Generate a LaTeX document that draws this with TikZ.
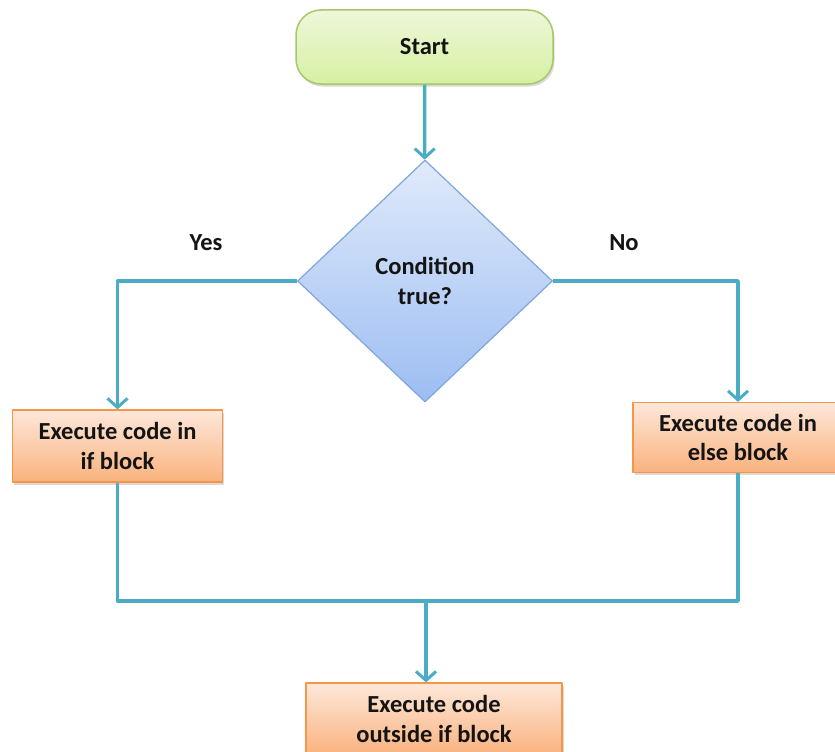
\documentclass[tikz,border=0pt]{standalone}
\usepackage{fontspec}
\setmainfont{Carlito}
\usetikzlibrary{shapes.geometric,arrows.meta,shadows,calc}
\definecolor{flowline}{HTML}{4BACC6}
\definecolor{termtop}{HTML}{EEF7DA}
\definecolor{termbot}{HTML}{D6F0A2}
\definecolor{termedge}{HTML}{A8C76A}
\definecolor{condtop}{HTML}{E0EAFB}
\definecolor{condbot}{HTML}{9CBDF2}
\definecolor{condedge}{HTML}{7FA6DA}
\definecolor{proctop}{HTML}{FDE8DA}
\definecolor{procbot}{HTML}{FAB27E}
\definecolor{procedge}{HTML}{F79646}

\begin{document}
\begin{tikzpicture}[x=1pt,y=-1pt, line join=round,
  every node/.style={font=\fontsize{24.5}{29.5}\selectfont\bfseries, text=black!92, align=center, inner sep=0pt},
  shade/.style={drop shadow={shadow xshift=1.5pt, shadow yshift=-2.5pt, opacity=0.3}},
  terminal/.style={shade, draw=termedge, line width=1.5pt, rounded corners=25pt, top color=termtop, bottom color=termbot, minimum width=257pt, minimum height=74pt},
  decision/.style={diamond, draw=condedge, line width=1.2pt, top color=condtop, bottom color=condbot, minimum width=255pt, minimum height=242pt},
  process/.style={shade, draw=procedge, line width=1.2pt, top color=proctop, bottom color=procbot, minimum width=210pt, minimum height=72pt},
  flow/.style={draw=flowline, line width=3.5pt},
  arrow/.style={flow, -{Straight Barb[length=9pt,width=20pt,line width=3pt]}}]
\useasboundingbox (0,0) rectangle (835,752);
\clip (0,0) rectangle (835,752);
\node[terminal] (start) at (424.5,47) {Start};
\node[decision] (cond) at (425,281) {Condition\\true?};
\node[process] (ifblk) at (117.5,446) {Execute code in\\if block};
\node[process, minimum height=70pt] (elseblk) at (738,437.5) {Execute code in\\else block};
\node[process, minimum width=256pt] (outblk) at (434,719) {Execute code\\outside if block};
\node (yes) at (206,243) {Yes};
\node (no) at (624,243) {No};
\coordinate (join) at (426,601);
\draw[arrow] (start) -- (cond);
\draw[arrow] (cond.west) -| (ifblk.north);
\draw[arrow] (cond.east) -| (elseblk.north);
\draw[flow] (ifblk.south) |- (join) -| (elseblk.south);
\draw[arrow] (join) -- (join |- outblk.north);
\end{tikzpicture}
\end{document}
